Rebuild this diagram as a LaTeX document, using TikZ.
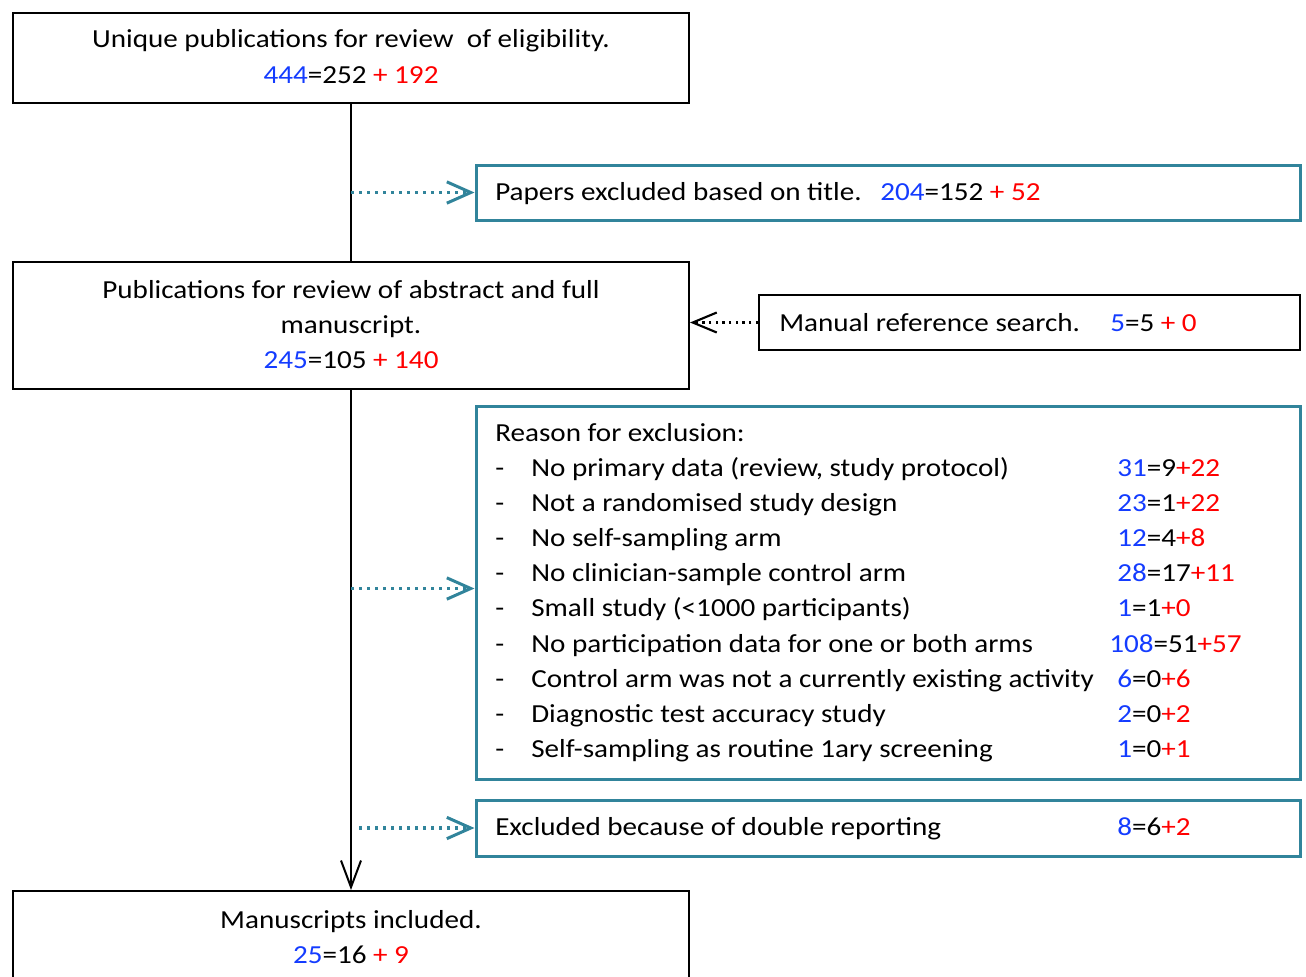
\documentclass[tikz,border=0pt]{standalone}
\usepackage{fontspec}
\setmainfont{Carlito}[FakeStretch=1.12]
\usetikzlibrary{arrows.meta}
\definecolor{teal1}{RGB}{49,132,155}
\definecolor{numblue}{RGB}{20,60,255}
\definecolor{numred}{RGB}{255,0,0}
\newcommand\nb[1]{\textcolor{numblue}{#1}}
\newcommand\nr[1]{\textcolor{numred}{#1}}
\begin{document}
\begin{tikzpicture}[x=0.75pt,y=-0.75pt,
  blackbox/.style={draw=black,line width=1.5pt,fill=white,inner sep=0pt},
  tealbox/.style={draw=teal1,line width=2.25pt,fill=white,inner sep=0pt},
  txt/.style={inner sep=0pt,font=\fontsize{19.5}{26}\selectfont},
  mainline/.style={line width=1.5pt,draw=black},
  dotarrow/.style={draw=teal1,line width=2.4pt,dash pattern=on 2.4pt off 3.6pt,
    -{Straight Barb[length=18pt,width=16pt,line width=2.25pt]}},
  blackdot/.style={draw=black,line width=1.8pt,dash pattern=on 1.8pt off 3.2pt,
    -{Straight Barb[length=18pt,width=15pt,line width=1.6pt]}},
  downarrow/.style={mainline,-{Straight Barb[length=20pt,width=15pt,line width=1.5pt]}}]
\useasboundingbox (0,0) rectangle (1306,976);

% boxes
\node[blackbox,minimum width=507pt,minimum height=67.5pt] (b1) at (351,58) {};
\node[tealbox,minimum width=618pt,minimum height=41.25pt] (b2) at (888,192.5) {};
\node[blackbox,minimum width=507pt,minimum height=95.25pt] (b3) at (351,325.5) {};
\node[blackbox,minimum width=405.75pt,minimum height=41.25pt] (b4) at (1029.5,322.5) {};
\node[tealbox,minimum width=618pt,minimum height=279.75pt] (b5) at (888,592.5) {};
\node[tealbox,minimum width=618pt,minimum height=42pt] (b6) at (888,828) {};
\node[blackbox,minimum width=507pt,minimum height=81.75pt] (b7) at (351,945.5) {};

% connectors
\draw[mainline] (b1.south) -- (b3.north);
\draw[downarrow] (b3.south) -- (b7.north);
\draw[dotarrow] (b1.south |- b2.west) -- (b2.west);
\draw[dotarrow] ([yshift=3pt]b3.south |- b5.west) -- ([yshift=3pt]b5.west);
\draw[dotarrow] ([xshift=6pt]b3.south |- b6.west) -- (b6.west);
\draw[blackdot] (b4.west) -- (b3.east |- b4.west);

% box 1 text
\node[txt,anchor=base] (t1a) at (351,47) {Unique publications for review\ \ of eligibility.};
\node[txt,anchor=base] (t1b) at (351,83) {\nb{444}=252 \nr{+ 192}};
% box 2 text
\node[txt,anchor=base west] (t2a) at (495,200) {Papers excluded based on title.};
\node[txt,anchor=base west] (t2b) at (880,200) {\nb{204}=152 \nr{+ 52}};
% box 3 text
\node[txt,anchor=base] (t3a) at (351,298) {Publications for review of abstract and full};
\node[txt,anchor=base] (t3b) at (351,333) {manuscript.};
\node[txt,anchor=base] (t3c) at (351,368) {\nb{245}=105 \nr{+ 140}};
% box 4 text
\node[txt,anchor=base west] (t4a) at (779,331) {Manual reference search.};
\node[txt,anchor=base west] (t4b) at (1110,331) {\nb{5}=5 \nr{+ 0}};
% box 5 text
\node[txt,anchor=base west] (t5) at (495,441) {Reason for exclusion:};
\foreach \i/\lab/\num/\nx in {
  0/{No primary data (review, study protocol)}/{\nb{31}=9\nr{+22}}/1117,
  1/{Not a randomised study design}/{\nb{23}=1\nr{+22}}/1117,
  2/{No self-sampling arm}/{\nb{12}=4\nr{+8}}/1117,
  3/{No clinician-sample control arm}/{\nb{28}=17\nr{+11}}/1117,
  4/{Small study (<1000 participants)}/{\nb{1}=1\nr{+0}}/1117,
  5/{No participation data for one or both arms}/{\nb{108}=51\nr{+57}}/1109,
  6/{Control arm was not a currently existing activity}/{\nb{6}=0\nr{+6}}/1117,
  7/{Diagnostic test accuracy study}/{\nb{2}=0\nr{+2}}/1117,
  8/{Self-sampling as routine 1ary screening}/{\nb{1}=0\nr{+1}}/1117}{
  \node[txt,anchor=base west] (d\i) at (495,476+35.2*\i) {-};
  \node[txt,anchor=base west] (r\i) at (531,476+35.2*\i) {\lab};
  \node[txt,anchor=base west] (n\i) at (\nx,476+35.2*\i) {\num};
}
% box 6 text
\node[txt,anchor=base west] (t6a) at (495,835) {Excluded because of double reporting};
\node[txt,anchor=base west] (t6b) at (1117,835) {\nb{8}=6\nr{+2}};
% box 7 text
\node[txt,anchor=base] (t7a) at (351,928) {Manuscripts included.};
\node[txt,anchor=base] (t7b) at (351,963) {\nb{25}=16 \nr{+ 9}};
\end{tikzpicture}
\end{document}
